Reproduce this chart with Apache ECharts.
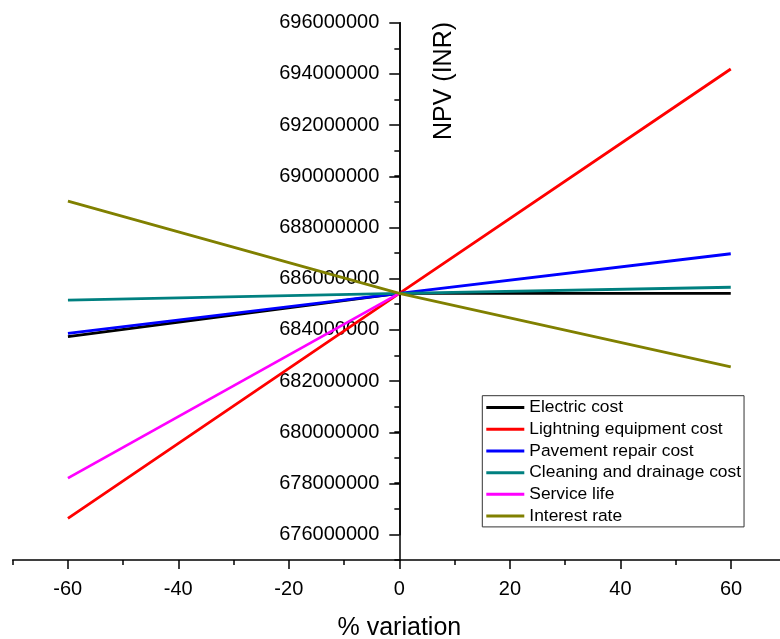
<!DOCTYPE html>
<html>
<head>
<meta charset="utf-8">
<script src="https://cdn.jsdelivr.net/npm/echarts@6/dist/echarts.min.js"></script>
<style>html,body{margin:0;padding:0;background:#fff}#c{width:780px;height:639px}</style>
</head>
<body>
<div id="c"></div>
<script>
// % variation points
const xPoints = [-60, 0, 60];
const xPointsServiceLife = [-60, 0];
// NPV values (INR)
const electricCost = [683730000, 685420000, 685420000];
const lightningEquipmentCost = [676630000, 685420000, 694190000];
const pavementRepairCost = [683860000, 685420000, 686970000];
const cleaningDrainageCost = [685160000, 685420000, 685660000];
const serviceLife = [678200000, 685420000];
const interestRate = [689030000, 685420000, 682550000];
const seriesNames = ['Electric cost', 'Lightning equipment cost', 'Pavement repair cost',
  'Cleaning and drainage cost', 'Service life', 'Interest rate'];
const seriesColors = ['#000000', '#ff0000', '#0000ff', '#008080', '#ff00ff', '#808000'];
const xTickLabels = [-60, -40, -20, 0, 20, 40, 60];
const yTickLabels = [676000000, 696000000];

const FONT = "'Liberation Sans', Arial, sans-serif";
const seriesValues = [electricCost, lightningEquipmentCost, pavementRepairCost,
  cleaningDrainageCost, serviceLife, interestRate];

function pairs(xs, ys) { return ys.map((v, i) => [xs[i], v]); }

const chart = echarts.init(document.getElementById('c'), null, {renderer: 'canvas'});
chart.setOption({
  animation: false,
  backgroundColor: '#fff',
  grid: [
    {left: 12.7, right: -6, top: 22.7, bottom: 79, containLabel: false, outerBoundsMode: 'none'},
    {left: 67.7, right: 49, top: 22.7, bottom: 104.3, containLabel: false, outerBoundsMode: 'none'},
    {left: 399.3, width: 100, top: 22.7, bottom: 104.3, containLabel: false, outerBoundsMode: 'none'}
  ],
  xAxis: [
    {
      type: 'value', gridIndex: 0, min: -70, max: 70, interval: 10,
      axisLine: {show: true, onZero: false, lineStyle: {color: '#000', width: 1.5}},
      axisTick: {show: true, length: 5, lineStyle: {color: '#000', width: 1.5}},
      axisLabel: {show: false},
      splitLine: {show: false}
    },
    {
      type: 'value', gridIndex: 1, min: xTickLabels[0], max: xTickLabels[xTickLabels.length - 1], interval: 20,
      position: 'bottom', offset: 25.3,
      axisLine: {show: false, onZero: false},
      axisTick: {show: true, length: 9, lineStyle: {color: '#000', width: 1.5}},
      axisLabel: {show: true, fontSize: 20, fontFamily: FONT, color: '#000', margin: 19,
        showMinLabel: true, showMaxLabel: true},
      splitLine: {show: false},
      name: '% variation', nameLocation: 'middle', nameGap: 56,
      nameTextStyle: {fontSize: 25, fontFamily: FONT, color: '#000'}
    },
    {
      type: 'value', gridIndex: 2, min: 0, max: 1, show: false
    }
  ],
  yAxis: [
    {
      type: 'value', gridIndex: 0, min: 675000000, max: 696000000, interval: 1000000,
      axisLine: {show: true, onZero: true, lineStyle: {color: '#000', width: 1.5}},
      axisTick: {show: true, length: 5, lineStyle: {color: '#000', width: 1.5}},
      axisLabel: {show: false},
      splitLine: {show: false}
    },
    {
      type: 'value', gridIndex: 1, min: 676000000, max: 696000000, interval: 2000000, show: false
    },
    {
      type: 'value', gridIndex: 2, min: yTickLabels[0], max: yTickLabels[1], interval: 2000000,
      position: 'left',
      axisLine: {show: true, onZero: false, lineStyle: {color: '#000', width: 1.5}},
      axisTick: {show: true, length: 10, lineStyle: {color: '#000', width: 1.5}},
      axisLabel: {show: true, fontSize: 20, fontFamily: FONT, color: '#000', margin: 20,
        showMinLabel: true, showMaxLabel: true, formatter: v => String(v)},
      splitLine: {show: false}
    }
  ],
  legend: {
    orient: 'vertical', left: 482.3, top: 395.7,
    padding: [1, 3, 0, 4], itemGap: 0, itemWidth: 38, itemHeight: 3, icon: 'rect',
    borderColor: '#333', borderWidth: 1, backgroundColor: '#fff',
    textStyle: {fontSize: 17.4, lineHeight: 21.7, fontFamily: FONT, color: '#000'},
    data: seriesNames
  },
  graphic: [{
    type: 'text', x: 444, y: 81, rotation: Math.PI / 2,
    style: {text: 'NPV (INR)', fontSize: 25, fontFamily: FONT, fill: '#000',
      textAlign: 'center', textVerticalAlign: 'middle'}
  }],
  series: seriesValues.map((vals, i) => ({
    name: seriesNames[i], type: 'line', xAxisIndex: 0, yAxisIndex: 0,
    data: pairs(i === 4 ? xPointsServiceLife : xPoints, vals),
    symbol: 'none', showSymbol: false,
    color: seriesColors[i],
    lineStyle: {color: seriesColors[i], width: 2.8}
  }))
});
</script>
</body>
</html>
